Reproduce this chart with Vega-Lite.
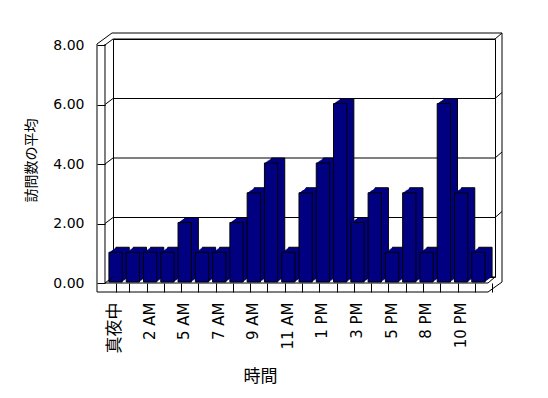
{
  "$schema": "https://vega.github.io/schema/vega-lite/v6.json",
  "autosize": {"type": "none"},
  "padding": {"left": 113, "top": 39, "right": 53, "bottom": 121},
  "width": 382,
  "height": 238,
  "background": "white",
  "config": {"view": {"stroke": "black", "strokeWidth": 1}},
  "datasets": {
    "visits": [
      {"hour": "真夜中", "visits": 1},
      {"hour": "1 AM", "visits": 1},
      {"hour": "2 AM", "visits": 1},
      {"hour": "3 AM", "visits": 1},
      {"hour": "5 AM", "visits": 2},
      {"hour": "6 AM", "visits": 1},
      {"hour": "7 AM", "visits": 1},
      {"hour": "8 AM", "visits": 2},
      {"hour": "9 AM", "visits": 3},
      {"hour": "10 AM", "visits": 4},
      {"hour": "11 AM", "visits": 1},
      {"hour": "正午", "visits": 3},
      {"hour": "1 PM", "visits": 4},
      {"hour": "2 PM", "visits": 6},
      {"hour": "3 PM", "visits": 2},
      {"hour": "4 PM", "visits": 3},
      {"hour": "5 PM", "visits": 1},
      {"hour": "6 PM", "visits": 3},
      {"hour": "8 PM", "visits": 1},
      {"hour": "9 PM", "visits": 6},
      {"hour": "10 PM", "visits": 3},
      {"hour": "11 PM", "visits": 1}
    ],
    "grid": [{"v": 0}, {"v": 2}, {"v": 4}, {"v": 6}, {"v": 8}],
    "one": [{}]
  },
  "layer": [
    {
      "data": {"name": "grid"},
      "mark": {"type": "rule", "color": "black", "strokeWidth": 1},
      "encoding": {
        "y": {"field": "v", "type": "quantitative", "scale": {"domain": [0, 8], "nice": false}}
      }
    },
    {
      "data": {"name": "visits"},
      "mark": {"type": "bar", "fill": "#000080", "stroke": "black", "strokeWidth": 1},
      "encoding": {
        "x": {
          "field": "hour", "type": "nominal", "sort": null,
          "scale": {"type": "band", "paddingInner": 0.23, "paddingOuter": 0.17, "domain": ["真夜中", "1 AM", "2 AM", "3 AM", "5 AM", "6 AM", "7 AM", "8 AM", "9 AM", "10 AM", "11 AM", "正午", "1 PM", "2 PM", "3 PM", "4 PM", "5 PM", "6 PM", "8 PM", "9 PM", "10 PM", "11 PM"]},
          "axis": {
            "title": "時間", "orient": "bottom", "offset": 6, "domain": false, "grid": false,
            "ticks": true, "tickBand": "extent", "tickSize": 9, "tickColor": "black", "tickWidth": 1, "tickOffset": -8,
            "labelOffset": -8,
            "labelAngle": -90, "labelPadding": 10, "labelFont": "DejaVu Sans, Noto Sans CJK JP",
            "labelFontSize": {"condition": {"test": "datum.value === '真夜中'", "value": 17}, "value": 15},
            "labelColor": "black", "labelOverlap": false, "labelFlush": false,
            "labelExpr": "indexof(['真夜中','2 AM','5 AM','7 AM','9 AM','11 AM','1 PM','3 PM','5 PM','8 PM','10 PM'], datum.value) >= 0 ? datum.label : ''",
            "titleFont": "Noto Sans CJK JP", "titleFontSize": 17, "titleFontWeight": "normal", "titleColor": "black",
            "titleX": 147, "titleY": 93, "titleBaseline": "middle", "titleAlign": "center"
          }
        },
        "y": {
          "field": "visits", "type": "quantitative", "scale": {"domain": [0, 8], "nice": false},
          "axis": {
            "title": "訪問数の平均", "orient": "left", "offset": 8, "domain": false, "grid": false,
            "values": [0, 2, 4, 6, 8], "format": ".2f", "tickSize": 8, "tickOffset": 6, "tickColor": "black", "tickWidth": 1,
            "labelPadding": 13, "labelFont": "DejaVu Sans", "labelFontSize": 14, "labelColor": "black",
            "titleFont": "Noto Sans CJK JP", "titleFontSize": 14, "titleFontWeight": "normal", "titleColor": "black",
            "titleX": -74, "titleY": 121, "titleBaseline": "middle", "titleAlign": "center", "titleAngle": 270
          }
        }
      }
    },
    {
      "data": {"name": "visits"},
      "mark": {"type": "bar", "fill": "#000080", "strokeWidth": 0, "xOffset": -1, "x2Offset": -1, "yOffset": 0.71, "y2Offset": 0.71},
      "encoding": {
        "x": {"field": "hour", "type": "nominal", "sort": null},
        "y": {"field": "visits", "type": "quantitative"}
      }
    },
    {
      "data": {"name": "visits"},
      "mark": {"type": "bar", "fill": "#000080", "strokeWidth": 0, "xOffset": -2, "x2Offset": -2, "yOffset": 1.43, "y2Offset": 1.43},
      "encoding": {
        "x": {"field": "hour", "type": "nominal", "sort": null},
        "y": {"field": "visits", "type": "quantitative"}
      }
    },
    {
      "data": {"name": "visits"},
      "mark": {"type": "bar", "fill": "#000080", "strokeWidth": 0, "xOffset": -3, "x2Offset": -3, "yOffset": 2.14, "y2Offset": 2.14},
      "encoding": {
        "x": {"field": "hour", "type": "nominal", "sort": null},
        "y": {"field": "visits", "type": "quantitative"}
      }
    },
    {
      "data": {"name": "visits"},
      "mark": {"type": "bar", "fill": "#000080", "strokeWidth": 0, "xOffset": -4, "x2Offset": -4, "yOffset": 2.86, "y2Offset": 2.86},
      "encoding": {
        "x": {"field": "hour", "type": "nominal", "sort": null},
        "y": {"field": "visits", "type": "quantitative"}
      }
    },
    {
      "data": {"name": "visits"},
      "mark": {"type": "bar", "fill": "#000080", "strokeWidth": 0, "xOffset": -5, "x2Offset": -5, "yOffset": 3.57, "y2Offset": 3.57},
      "encoding": {
        "x": {"field": "hour", "type": "nominal", "sort": null},
        "y": {"field": "visits", "type": "quantitative"}
      }
    },
    {
      "data": {"name": "visits"},
      "mark": {"type": "bar", "fill": "#000080", "strokeWidth": 0, "xOffset": -6, "x2Offset": -6, "yOffset": 4.29, "y2Offset": 4.29},
      "encoding": {
        "x": {"field": "hour", "type": "nominal", "sort": null},
        "y": {"field": "visits", "type": "quantitative"}
      }
    },
    {
      "data": {"name": "visits"},
      "mark": {"type": "bar", "fill": "#000080", "stroke": "black", "strokeWidth": 1, "xOffset": -7, "x2Offset": -7, "yOffset": 5, "y2Offset": 5},
      "encoding": {
        "x": {"field": "hour", "type": "nominal", "sort": null},
        "y": {"field": "visits", "type": "quantitative"}
      }
    },
    {
      "data": {"name": "grid"},
      "mark": {"type": "rule", "color": "black", "strokeWidth": 1, "xOffset": -17.6, "x2Offset": -9.6, "yOffset": 6},
      "encoding": {
        "x": {"datum": "真夜中", "type": "nominal"},
        "x2": {"datum": "真夜中"},
        "y": {"field": "v", "type": "quantitative"},
        "y2": {"field": "v"}
      }
    },
    {
      "data": {"name": "grid"},
      "transform": [{"filter": "datum.v > 0"}],
      "mark": {"type": "rule", "color": "black", "strokeWidth": 1, "xOffset": 9.6, "x2Offset": 16.6, "y2Offset": -6},
      "encoding": {
        "x": {"datum": "11 PM", "type": "nominal"},
        "x2": {"datum": "11 PM"},
        "y": {"field": "v", "type": "quantitative"},
        "y2": {"field": "v"}
      }
    },
    {
      "data": {"name": "one"},
      "mark": {"type": "rule", "color": "black", "xOffset": -25.6, "yOffset": 5, "y2Offset": 15},
      "encoding": {
        "x": {"datum": "真夜中", "type": "nominal"},
        "y": {"datum": 8, "type": "quantitative"},
        "y2": {"datum": 0}
      }
    },
    {
      "data": {"name": "one"},
      "mark": {"type": "rule", "color": "black", "xOffset": -17.6, "yOffset": 5, "y2Offset": 6},
      "encoding": {
        "x": {"datum": "真夜中", "type": "nominal"},
        "y": {"datum": 8, "type": "quantitative"},
        "y2": {"datum": 0}
      }
    },
    {
      "data": {"name": "one"},
      "mark": {"type": "rule", "color": "black", "xOffset": -17.6, "x2Offset": 2.6, "yOffset": 6, "y2Offset": 6},
      "encoding": {
        "x": {"datum": "真夜中", "type": "nominal"},
        "x2": {"datum": "11 PM"},
        "y": {"datum": 0, "type": "quantitative"},
        "y2": {"datum": 0}
      }
    },
    {
      "data": {"name": "one"},
      "mark": {"type": "rule", "color": "black", "xOffset": -25.6, "x2Offset": 2.6, "yOffset": 15, "y2Offset": 15},
      "encoding": {
        "x": {"datum": "真夜中", "type": "nominal"},
        "x2": {"datum": "11 PM"},
        "y": {"datum": 0, "type": "quantitative"},
        "y2": {"datum": 0}
      }
    },
    {
      "data": {"name": "one"},
      "mark": {"type": "rule", "color": "black", "xOffset": 2.6, "x2Offset": 16.6, "yOffset": 15, "y2Offset": 5},
      "encoding": {
        "x": {"datum": "11 PM", "type": "nominal"},
        "x2": {"datum": "11 PM"},
        "y": {"datum": 0, "type": "quantitative"},
        "y2": {"datum": 0}
      }
    },
    {
      "data": {"name": "one"},
      "mark": {"type": "rule", "color": "black", "xOffset": 2.6, "x2Offset": 9.6, "yOffset": 6, "y2Offset": 0},
      "encoding": {
        "x": {"datum": "11 PM", "type": "nominal"},
        "x2": {"datum": "11 PM"},
        "y": {"datum": 0, "type": "quantitative"},
        "y2": {"datum": 0}
      }
    },
    {
      "data": {"name": "one"},
      "mark": {"type": "rule", "color": "black", "xOffset": 16.6, "yOffset": -6, "y2Offset": 5},
      "encoding": {
        "x": {"datum": "11 PM", "type": "nominal"},
        "y": {"datum": 8, "type": "quantitative"},
        "y2": {"datum": 0}
      }
    },
    {
      "data": {"name": "one"},
      "mark": {"type": "rule", "color": "black", "xOffset": -10.6, "x2Offset": 16.6, "yOffset": -6, "y2Offset": -6},
      "encoding": {
        "x": {"datum": "真夜中", "type": "nominal"},
        "x2": {"datum": "11 PM"},
        "y": {"datum": 8, "type": "quantitative"},
        "y2": {"datum": 8}
      }
    },
    {
      "data": {"name": "one"},
      "mark": {"type": "rule", "color": "black", "xOffset": -25.6, "x2Offset": -10.6, "yOffset": 5, "y2Offset": -6},
      "encoding": {
        "x": {"datum": "真夜中", "type": "nominal"},
        "x2": {"datum": "真夜中"},
        "y": {"datum": 8, "type": "quantitative"},
        "y2": {"datum": 8}
      }
    }
  ]
}
